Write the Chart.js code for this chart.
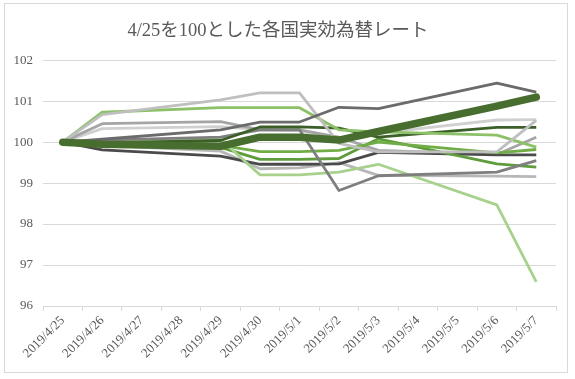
<!DOCTYPE html>
<html>
<head>
<meta charset="utf-8">
<script src="https://cdn.jsdelivr.net/npm/chart.js@4/dist/chart.umd.min.js"></script>
<style>
html,body{margin:0;padding:0;background:#fff;}
#wrap{position:relative;width:575px;height:379px;}
</style>
</head>
<body>
<div id="wrap"><canvas id="c" width="575" height="379"></canvas></div>
<script>
const TITLE = '4/25を100とした各国実効為替レート';
const categories = ['2019/4/25','2019/4/26','2019/4/27','2019/4/28','2019/4/29','2019/4/30','2019/5/1','2019/5/2','2019/5/3','2019/5/4','2019/5/5','2019/5/6','2019/5/7'];
const yTicks = [96, 97, 98, 99, 100, 101, 102];

// values per series (null = no trading day)
const thickGreen   = [100, 99.95, null, null, 99.90, 100.12, 100.12, 100.05, 100.26, null, null, 100.88, 101.10];
const darkGreyTop  = [100, 100.07, null, null, 100.30, 100.49, 100.49, 100.85, 100.82, null, null, 101.44, 101.22];
const lightGreyTop = [100, 100.67, null, null, 101.03, 101.20, 101.20, 99.97, 99.76, null, null, 99.76, 100.53];
const greenHigh    = [100, 100.73, null, null, 100.84, 100.84, 100.84, 100.30, 100.25, null, null, 100.17, 99.88];
const darkGreen    = [100, 99.98, null, null, 100.04, 100.37, 100.37, 100.34, 100.12, null, null, 100.36, 100.36];
const greyDip      = [100, 100.05, null, null, 100.12, 100.30, 100.30, 98.82, 99.18, null, null, 99.27, 99.55];
const lightGreen   = [100, 100.00, null, null, 100.07, 99.20, 99.20, 99.27, 99.46, null, null, 98.47, 96.59];
const greenMid     = [100, 99.98, null, null, 99.92, 99.77, 99.77, 99.80, 100.00, null, null, 99.74, 99.82];
const greenLow     = [100, 99.96, null, null, 99.87, 99.58, 99.58, 99.60, 100.08, null, null, 99.47, 99.39];
const darkGreyLow  = [100, 99.81, null, null, 99.66, 99.46, 99.46, 99.47, 99.75, null, null, 99.69, 99.69];
const greyMid      = [100, 100.45, null, null, 100.50, 100.30, 100.30, 100.12, 99.80, null, null, 99.70, 100.12];
const paleGrey     = [100, 100.33, null, null, 100.38, 100.30, 100.28, 100.05, 100.22, null, null, 100.54, 100.55];
const lightGreyLow = [100, 99.92, null, null, 99.78, 99.35, 99.37, 99.50, 99.19, null, null, 99.17, 99.16];

const seriesList = [
  {data: lightGreyLow, color: '#B7B7B7', w: 2.8},
  {data: paleGrey,     color: '#D0D0D0', w: 2.8},
  {data: greyMid,      color: '#A5A5A5', w: 2.8},
  {data: darkGreyLow,  color: '#4A4A4A', w: 2.8},
  {data: greenLow,     color: '#5E9C3C', w: 2.8},
  {data: greenMid,     color: '#70AD47', w: 2.8},
  {data: lightGreen,   color: '#A9D18E', w: 2.8},
  {data: greyDip,      color: '#7F7F7F', w: 2.8},
  {data: darkGreen,    color: '#3B5F27', w: 2.8},
  {data: greenHigh,    color: '#8CC168', w: 2.8},
  {data: lightGreyTop, color: '#BFBFBF', w: 2.8},
  {data: darkGreyTop,  color: '#6B6B6B', w: 2.8},
  {data: thickGreen,   color: '#476E2F', w: 7.5, cap: 'round'}
];

const frame = {
  id: 'frame',
  beforeDraw(chart) {
    const ctx = chart.ctx;
    ctx.save();
    ctx.fillStyle = '#ffffff';
    ctx.fillRect(0, 0, chart.width, chart.height);
    ctx.strokeStyle = '#d9d9d9';
    ctx.lineWidth = 1;
    ctx.strokeRect(4.5, 3.5, 563, 369);
    ctx.restore();
  }
};

new Chart(document.getElementById('c'), {
  type: 'line',
  data: {
    labels: categories,
    datasets: seriesList.map((s, i) => ({
      label: 'S' + (i + 1),
      data: s.data,
      borderColor: s.color,
      backgroundColor: s.color,
      borderWidth: s.w,
      borderCapStyle: s.cap || 'butt',
      borderJoinStyle: 'round',
      pointRadius: 0,
      pointHoverRadius: 0,
      tension: 0,
      spanGaps: true,
      fill: false,
      order: seriesList.length - i
    }))
  },
  options: {
    responsive: false,
    animation: false,
    devicePixelRatio: 1,
    events: [],
    layout: {padding: {left: 0, right: 19, top: 0, bottom: 8}},
    plugins: {
      legend: {display: false},
      tooltip: {enabled: false},
      title: {
        display: true,
        text: TITLE,
        color: '#595959',
        font: {family: "'Liberation Serif', 'Noto Sans CJK JP'", size: 18.5, weight: 'normal'},
        padding: {top: 20, bottom: 18}
      }
    },
    scales: {
      x: {
        type: 'category',
        offset: true,
        grid: {offset: true, drawOnChartArea: false, drawTicks: true, tickLength: 5, color: '#d9d9d9'},
        border: {display: true, color: '#d9d9d9'},
        ticks: {
          autoSkip: false,
          maxRotation: 45,
          minRotation: 45,
          color: '#595959',
          padding: 2,
          font: {family: "'Liberation Serif'", size: 13}
        },
        afterFit(scale) { scale.height = 65; }
      },
      y: {
        min: 96,
        max: 102,
        afterBuildTicks(scale) { scale.ticks = yTicks.map(v => ({value: v})); },
        grid: {color: '#d9d9d9', drawTicks: false},
        border: {display: false},
        ticks: {
          color: '#595959',
          padding: 10,
          font: {family: "'Liberation Serif'", size: 13}
        },
        afterFit(scale) { scale.width = 43; }
      }
    }
  },
  plugins: [frame]
});
</script>
</body>
</html>
